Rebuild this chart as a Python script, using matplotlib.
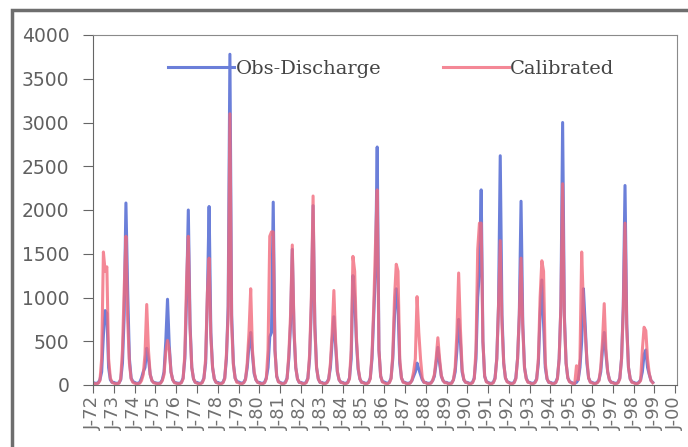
import matplotlib.pyplot as plt
import numpy as np
from matplotlib.patches import Rectangle

# monthly discharge, one row per year (Jan..Dec), 1972-1998
obs_discharge = [
    [30, 20, 20, 25, 60, 150, 570, 850, 820, 200, 60, 30],        # 1972
    [30, 20, 20, 25, 60, 250, 800, 2080, 1080, 300, 80, 40],      # 1973
    [30, 20, 20, 30, 80, 150, 200, 420, 300, 120, 50, 30],        # 1974
    [25, 20, 20, 25, 60, 150, 500, 980, 450, 150, 60, 30],        # 1975
    [25, 20, 20, 30, 80, 300, 1000, 2000, 700, 200, 70, 30],      # 1976
    [30, 20, 20, 30, 80, 250, 1000, 2040, 600, 200, 70, 30],      # 1977
    [30, 20, 20, 30, 80, 300, 900, 3780, 800, 250, 80, 40],       # 1978
    [35, 25, 20, 30, 70, 200, 450, 600, 350, 130, 60, 30],        # 1979
    [30, 20, 20, 30, 80, 200, 550, 600, 2090, 400, 100, 40],      # 1980
    [30, 20, 20, 30, 80, 300, 700, 1550, 600, 200, 70, 30],       # 1981
    [30, 20, 20, 30, 80, 300, 900, 2050, 700, 200, 70, 30],       # 1982
    [30, 20, 20, 30, 70, 200, 500, 780, 450, 150, 60, 30],        # 1983
    [30, 20, 20, 30, 80, 300, 1250, 1000, 500, 180, 70, 30],      # 1984
    [30, 20, 20, 30, 80, 300, 800, 1300, 2720, 400, 100, 40],     # 1985
    [35, 25, 20, 30, 80, 300, 800, 1100, 900, 250, 80, 35],       # 1986
    [30, 20, 20, 25, 50, 100, 150, 250, 180, 120, 60, 30],        # 1987
    [30, 20, 20, 25, 50, 100, 250, 430, 250, 100, 50, 30],        # 1988
    [30, 20, 20, 25, 60, 150, 400, 750, 500, 150, 60, 30],        # 1989
    [30, 20, 20, 30, 80, 300, 1000, 1300, 2230, 500, 100, 40],    # 1990
    [30, 20, 20, 30, 80, 300, 900, 2620, 800, 250, 80, 40],       # 1991
    [30, 20, 20, 30, 80, 300, 800, 2100, 700, 200, 80, 35],       # 1992
    [30, 20, 20, 30, 70, 250, 800, 1200, 700, 200, 70, 30],       # 1993
    [30, 20, 20, 30, 80, 300, 900, 3000, 800, 250, 80, 40],       # 1994
    [30, 20, 20, 30, 60, 200, 500, 1100, 700, 250, 80, 35],       # 1995
    [30, 20, 20, 30, 60, 150, 400, 600, 350, 150, 60, 30],        # 1996
    [30, 20, 20, 30, 80, 300, 900, 2280, 700, 200, 70, 35],       # 1997
    [30, 20, 20, 30, 60, 150, 350, 400, 200, 120, 50, 30],        # 1998
]

calibrated = [
    [20, 15, 15, 20, 50, 300, 1520, 1300, 1350, 300, 80, 30],     # 1972
    [20, 15, 15, 20, 70, 400, 1100, 1700, 750, 250, 70, 30],      # 1973
    [20, 15, 15, 20, 50, 120, 350, 920, 400, 120, 50, 25],        # 1974
    [20, 15, 15, 20, 50, 120, 380, 510, 400, 150, 60, 25],        # 1975
    [20, 15, 15, 25, 70, 350, 1200, 1700, 650, 200, 70, 30],      # 1976
    [20, 15, 15, 25, 70, 300, 1050, 1450, 550, 200, 70, 30],      # 1977
    [20, 15, 15, 25, 70, 350, 800, 3100, 700, 230, 80, 30],       # 1978
    [25, 15, 15, 25, 60, 250, 600, 1100, 400, 150, 60, 30],       # 1979
    [20, 15, 15, 25, 70, 400, 1700, 1750, 1750, 400, 100, 35],    # 1980
    [25, 15, 15, 25, 70, 350, 800, 1600, 650, 200, 70, 30],       # 1981
    [25, 15, 15, 25, 70, 350, 1000, 2160, 650, 200, 70, 30],      # 1982
    [25, 15, 15, 25, 60, 250, 600, 1080, 500, 160, 60, 30],       # 1983
    [25, 15, 15, 25, 70, 400, 1470, 1300, 550, 200, 70, 30],      # 1984
    [25, 15, 15, 25, 70, 350, 900, 1600, 2230, 400, 100, 35],     # 1985
    [25, 15, 15, 25, 70, 350, 1000, 1380, 1300, 300, 80, 30],     # 1986
    [25, 15, 15, 20, 50, 150, 300, 1010, 600, 300, 80, 30],       # 1987
    [25, 15, 15, 20, 50, 120, 300, 540, 300, 110, 50, 25],        # 1988
    [25, 15, 15, 20, 60, 200, 600, 1280, 650, 180, 60, 30],       # 1989
    [25, 15, 15, 25, 70, 400, 1550, 1850, 1850, 500, 100, 35],    # 1990
    [25, 15, 15, 25, 70, 300, 900, 1650, 700, 250, 80, 35],       # 1991
    [25, 15, 15, 25, 70, 300, 800, 1450, 650, 200, 70, 30],       # 1992
    [25, 15, 15, 25, 60, 300, 1000, 1420, 1300, 250, 70, 30],     # 1993
    [25, 15, 15, 25, 70, 300, 900, 2300, 750, 250, 80, 35],       # 1994
    [25, 15, 15, 220, 60, 300, 1520, 900, 600, 300, 80, 30],      # 1995
    [25, 15, 15, 25, 50, 200, 500, 930, 400, 150, 60, 30],        # 1996
    [25, 15, 15, 25, 70, 300, 850, 1850, 650, 200, 70, 30],       # 1997
    [25, 15, 15, 25, 50, 400, 660, 620, 300, 130, 50, 25],        # 1998
]

tick_labels = ['J-72', 'J-73', 'J-74', 'J-75', 'J-76', 'J-77', 'J-78', 'J-79',
               'J-80', 'J-81', 'J-82', 'J-83', 'J-84', 'J-85', 'J-86', 'J-87',
               'J-88', 'J-89', 'J-90', 'J-91', 'J-92', 'J-93', 'J-94', 'J-95',
               'J-96', 'J-97', 'J-98', 'J-99', 'J-00']

obs = np.array(obs_discharge).ravel()
cal = np.array(calibrated).ravel()
months = np.arange(len(obs))

fig = plt.figure(figsize=(6.88, 4.47), dpi=100)
ax = fig.add_axes([93 / 688, 1 - 385 / 447, 584 / 688, 350 / 447])

# outer chart frame
fig.patches.append(Rectangle((12 / 688, -0.05), 1.1, 1.05 - 10 / 447,
                             transform=fig.transFigure, fill=False,
                             edgecolor='#6e6e6e', linewidth=2.5))

ax.plot(months, obs, color='#6b7fd9', lw=2.2, label='Obs-Discharge')
ax.plot(months, cal, color='#f26a7c', lw=2.2, alpha=0.8, label='Calibrated')

ax.set_ylim(0, 4000)
ax.set_xlim(0, 337)
ax.set_yticks(np.arange(0, 4001, 500))
ax.set_xticks(np.arange(0, 12 * len(tick_labels), 12))
ax.set_xticklabels(tick_labels, rotation=90)

ax.tick_params(axis='y', length=7, pad=10, labelsize=13.5, labelcolor='#606060', color='#666666')
ax.tick_params(axis='x', length=6, pad=2, labelsize=13, labelcolor='#707070', color='#666666')
for s in ['left', 'bottom']:
    ax.spines[s].set_color('#666666')
for s in ['top', 'right']:
    ax.spines[s].set_color('#8a8a8a')

leg = ax.legend(loc='center left', bbox_to_anchor=(0.099, 0.903), ncol=2, frameon=False,
                handlelength=3.4, handletextpad=0.05, columnspacing=3.2,
                prop={'family': 'DejaVu Serif', 'size': 14})
for t in leg.get_texts():
    t.set_color('#444444')

plt.savefig('out.png', dpi=100)
